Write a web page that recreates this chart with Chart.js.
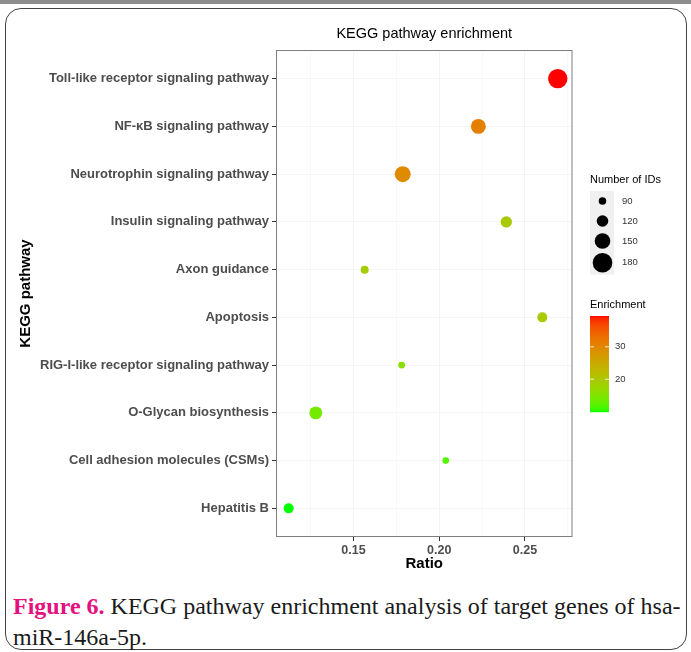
<!DOCTYPE html>
<html>
<head>
<meta charset="utf-8">
<script src="https://cdn.jsdelivr.net/npm/chart.js@4.4.1/dist/chart.umd.min.js"></script>
<style>
  body { margin: 0; width: 691px; height: 652px; overflow: hidden; background: #fff; position: relative; }
  .band { position: absolute; left: 0; top: 0; width: 691px; height: 4px; background: #8c8c8c; }
  .box { position: absolute; left: 5px; top: 8px; width: 680px; height: 640px; border: 1.5px solid #444; border-radius: 16px; }
  #myChart { position: absolute; left: 0; top: 0; }
  .caption { position: absolute; left: 13px; top: 591px; font-family: 'Liberation Serif', 'Times New Roman', serif; font-size: 24px; line-height: 31px; color: #1a1a1a; white-space: nowrap; }
  .caption b { color: #e4117f; }
</style>
</head>
<body>
<div class="band"></div>
<div class="box"></div>
<canvas id="myChart" width="691" height="580"></canvas>
<div class="caption"><b>Figure 6.</b> KEGG pathway enrichment analysis of target genes of hsa-<br>miR-146a-5p.</div>
<script>
const pathways = [
    'Toll-like receptor signaling pathway',
    'NF-\u03baB signaling pathway',
    'Neurotrophin signaling pathway',
    'Insulin signaling pathway',
    'Axon guidance',
    'Apoptosis',
    'RIG-I-like receptor signaling pathway',
    'O-Glycan biosynthesis',
    'Cell adhesion molecules (CSMs)',
    'Hepatitis B'
]
const ratio = [0.2691, 0.2228, 0.1787, 0.2391, 0.1565, 0.2601, 0.1781, 0.1280, 0.2038, 0.1122]
const numberOfIDs = [178, 145, 153, 118, 93, 108, 85, 130, 83, 108]
const enrichment = [39.5, 31.0, 29.5, 19.5, 19.0, 19.8, 16.0, 14.0, 12.0, 9.9]

const xTickLabels = [0.15, 0.20, 0.25]
const xMinorTicks = [0.125, 0.175, 0.225, 0.275]
const sizeBreaks = [90, 120, 150, 180]
const colorBreaks = [20, 30]

const font = "'Liberation Sans', Arial, sans-serif"

// point radius from number of IDs
function sizeOf(n){
    return Math.max(2, (n - 33) / 15)
}

// green -> red gradient in Lab space, like ggplot
function toLin(c){ c /= 255; return c <= 0.04045 ? c / 12.92 : Math.pow((c + 0.055) / 1.055, 2.4) }
function toSrgb(c){ c = c <= 0.0031308 ? 12.92 * c : 1.055 * Math.pow(c, 1 / 2.4) - 0.055; return Math.round(Math.min(1, Math.max(0, c)) * 255) }
function rgb2lab(r, g, b){
    r = toLin(r); g = toLin(g); b = toLin(b)
    let x = (r * 0.4124 + g * 0.3576 + b * 0.1805) / 0.95047
    let y = (r * 0.2126 + g * 0.7152 + b * 0.0722)
    let z = (r * 0.0193 + g * 0.1192 + b * 0.9505) / 1.08883
    const f = t => t > 0.008856 ? Math.cbrt(t) : 7.787 * t + 16 / 116
    x = f(x); y = f(y); z = f(z)
    return [116 * y - 16, 500 * (x - y), 200 * (y - z)]
}
function lab2rgb(L, a, b){
    let y = (L + 16) / 116, x = a / 500 + y, z = y - b / 200
    const fi = t => t * t * t > 0.008856 ? t * t * t : (t - 16 / 116) / 7.787
    x = fi(x) * 0.95047; y = fi(y); z = fi(z) * 1.08883
    const r = x * 3.2406 + y * -1.5372 + z * -0.4986
    const g = x * -0.9689 + y * 1.8758 + z * 0.0415
    const bb = x * 0.0557 + y * -0.2040 + z * 1.0570
    return 'rgb(' + toSrgb(r) + ',' + toSrgb(g) + ',' + toSrgb(bb) + ')'
}
const lowLab = rgb2lab(0, 255, 0)
const highLab = rgb2lab(255, 0, 0)
const eMin = Math.min(...enrichment)
const eMax = Math.max(...enrichment)
function colorOf(v){
    const t = Math.min(1, Math.max(0, (v - eMin) / (eMax - eMin)))
    return lab2rgb(
        lowLab[0] + (highLab[0] - lowLab[0]) * t,
        lowLab[1] + (highLab[1] - lowLab[1]) * t,
        lowLab[2] + (highLab[2] - lowLab[2]) * t
    )
}

const extras = {
    id: 'extras',
    afterDraw(chart){
        const c = chart.ctx
        const a = chart.chartArea
        c.save()
        // panel border
        c.strokeStyle = '#7f7f7f'
        c.lineWidth = 1
        c.strokeRect(a.left + 0.5, a.top + 0.5, a.right - a.left - 1, a.bottom - a.top - 1)

        // plot title, centred on the panel
        c.fillStyle = '#000'
        c.textAlign = 'center'
        c.textBaseline = 'middle'
        c.font = '14.5px ' + font
        c.fillText('KEGG pathway enrichment', (a.left + a.right) / 2, 34)

        // axis titles
        c.font = 'bold 15px ' + font
        c.fillText('Ratio', (a.left + a.right) / 2, 564)
        c.save()
        c.translate(26, (a.top + a.bottom) / 2)
        c.rotate(-Math.PI / 2)
        c.fillText('KEGG pathway', 0, 0)
        c.restore()

        // size legend
        const lx = a.right + 17.5
        c.textAlign = 'left'
        c.font = '11px ' + font
        c.fillText('Number of IDs', lx, 180)
        const keys = sizeBreaks.map(n => Math.max(20, 2 * sizeOf(n) + 4))
        const total = keys.reduce((s, h) => s + h, 0)
        c.fillStyle = '#f0f0f0'
        c.fillRect(lx, 191, 24, total)
        let y = 191
        c.font = '9.5px ' + font
        sizeBreaks.forEach((n, i) => {
            const cy = y + keys[i] / 2
            c.fillStyle = '#000'
            c.beginPath()
            c.arc(lx + 12.5, cy, sizeOf(n), 0, Math.PI * 2)
            c.fill()
            c.fillStyle = '#333'
            c.fillText(String(n), lx + 32, cy)
            y += keys[i]
        })

        // colour bar
        c.fillStyle = '#000'
        c.font = '11px ' + font
        c.fillText('Enrichment', lx, 305)
        const top = 316, h = 96, w = 19
        for(let k = 0; k < h; k++){
            c.fillStyle = colorOf(eMax - (eMax - eMin) * (k + 0.5) / h)
            c.fillRect(lx, top + k, w, 1.2)
        }
        c.font = '9.5px ' + font
        colorBreaks.forEach(v => {
            const ty = top + (eMax - v) / (eMax - eMin) * h
            c.strokeStyle = 'rgba(255,255,255,0.8)'
            c.beginPath()
            c.moveTo(lx, ty); c.lineTo(lx + 4, ty)
            c.moveTo(lx + w - 4, ty); c.lineTo(lx + w, ty)
            c.stroke()
            c.fillStyle = '#333'
            c.fillText(String(v), lx + 25, ty)
        })
        c.restore()
    }
}

const myChart = new Chart(document.getElementById('myChart'), {
    type: 'scatter',
    data: {
        datasets: [{
            data: pathways.map((p, i) => ({x: ratio[i], y: i})),
            pointRadius: ctx => sizeOf(numberOfIDs[ctx.dataIndex]),
            pointBackgroundColor: ctx => colorOf(enrichment[ctx.dataIndex]),
            pointBorderWidth: 0
        }]
    },
    options: {
        responsive: false,
        animation: false,
        events: [],
        layout: {
            padding: {left: 0, right: 118.5, top: 50, bottom: 0}
        },
        plugins: {
            legend: {display: false},
            tooltip: {enabled: false},
            title: {display: false}
        },
        scales: {
            x: {
                type: 'linear',
                min: 0.1048,
                max: 0.2777,
                afterBuildTicks: scale => {
                    scale.ticks = [...xMinorTicks, ...xTickLabels].sort((p, q) => p - q).map(v => ({value: v}))
                },
                afterFit: scale => { scale.height = 43 },
                border: {display: false},
                grid: {
                    color: ctx => xTickLabels.includes(ctx.tick.value) ? '#f3f3f3' : '#f8f8f8',
                    tickColor: ctx => xTickLabels.includes(ctx.tick.value) ? '#333' : 'rgba(0,0,0,0)',
                    tickLength: 4
                },
                ticks: {
                    autoSkip: false,
                    maxRotation: 0,
                    padding: 2,
                    color: '#4d4d4d',
                    font: {family: font, size: 12.5, weight: 'bold'},
                    callback: v => xTickLabels.includes(v) ? v.toFixed(2) : ''
                }
            },
            y: {
                type: 'linear',
                reverse: true,
                min: -0.6,
                max: pathways.length - 0.4,
                afterBuildTicks: scale => {
                    scale.ticks = pathways.map((p, i) => ({value: i}))
                },
                afterFit: scale => { scale.width = 276 },
                border: {display: false},
                grid: {
                    color: '#f5f5f5',
                    tickColor: '#333',
                    tickLength: 4
                },
                ticks: {
                    autoSkip: false,
                    padding: 3,
                    color: '#4d4d4d',
                    font: {family: font, size: 13, weight: 'bold'},
                    callback: v => pathways[v]
                }
            }
        }
    },
    plugins: [extras]
})
</script>
</body>
</html>
